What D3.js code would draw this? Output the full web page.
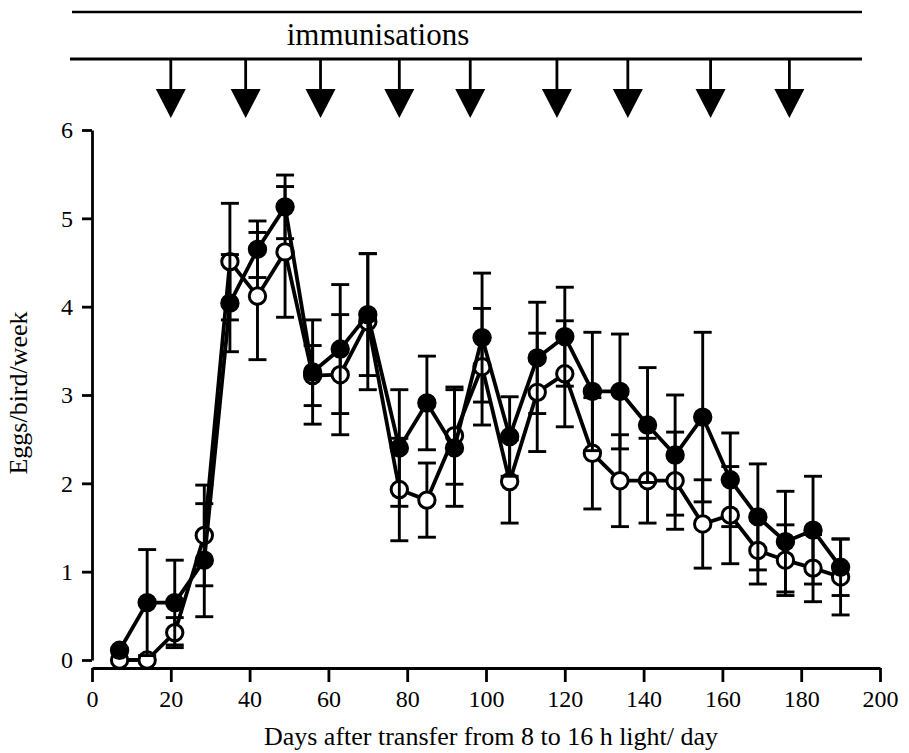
<!DOCTYPE html>
<html>
<head>
<meta charset="utf-8">
<script src="https://cdn.jsdelivr.net/npm/d3@7"></script>
<style>
  html, body { margin: 0; padding: 0; background: #fff; }
  svg { display: block; }
  text { font-family: "Liberation Serif", "Times New Roman", serif; fill: #000; }
</style>
</head>
<body>
<svg id="chart" width="909" height="753"></svg>
<script>
// Days after the photoperiod transfer at which egg output was scored
const days = [7, 14, 21, 28.5, 35, 42, 49, 56, 63, 70, 78, 85, 92, 99, 106, 113,
              120, 127, 134, 141, 148, 155, 162, 169, 176, 183, 190];

// Group shown with filled circles: mean eggs/bird/week and its SEM
const filledMean = [0.11, 0.65, 0.65, 1.13, 4.04, 4.65, 5.13, 3.26, 3.52, 3.91, 2.40, 2.91, 2.40, 3.65,
                    2.53, 3.42, 3.66, 3.04, 3.04, 2.66, 2.32, 2.75, 2.04, 1.62, 1.34, 1.47, 1.05];
const filledSem  = [0.08, 0.60, 0.48, 0.64, 0.55, 0.32, 0.36, 0.59, 0.73, 0.69, 0.66, 0.53, 0.66, 0.73,
                    0.45, 0.63, 0.56, 0.67, 0.65, 0.65, 0.68, 0.96, 0.53, 0.60, 0.57, 0.61, 0.32];

// Group shown with open circles
const openMean = [0.00, 0.00, 0.31, 1.41, 4.51, 4.12, 4.62, 3.22, 3.23, 3.83, 1.93, 1.81, 2.54, 3.32,
                  2.02, 3.03, 3.24, 2.34, 2.03, 2.03, 2.03, 1.54, 1.64, 1.24, 1.13, 1.04, 0.94];
const openSem  = [0.00, 0.00, 0.17, 0.57, 0.66, 0.72, 0.74, 0.34, 0.68, 0.77, 0.58, 0.42, 0.55, 0.66,
                  0.47, 0.67, 0.60, 0.63, 0.52, 0.48, 0.55, 0.50, 0.55, 0.38, 0.40, 0.38, 0.43];

// Days on which the immunisations were given
const immunisationDays = [20, 39, 58, 78, 96, 118, 136, 157, 177];

const xTicks = [0, 20, 40, 60, 80, 100, 120, 140, 160, 180, 200];
const yTicks = [0, 1, 2, 3, 4, 5, 6];

const svg = d3.select("#chart");

const x = d3.scaleLinear().domain([0, 200]).range([92, 880]);
const y = d3.scaleLinear().domain([0, 6]).range([660, 130]);

// ---- immunisation banner ----
const banner = svg.append("g");
banner.append("line").attr("x1", 72).attr("x2", 862).attr("y1", 12).attr("y2", 12)
  .attr("stroke", "#000").attr("stroke-width", 2.4);
banner.append("line").attr("x1", 70).attr("x2", 862).attr("y1", 59).attr("y2", 59)
  .attr("stroke", "#000").attr("stroke-width", 2.8);
banner.append("text").attr("x", 378).attr("y", 45).attr("text-anchor", "middle")
  .attr("font-size", 31).text("immunisations");

const arrows = banner.selectAll("g.arrow").data(immunisationDays).join("g")
  .attr("class", "arrow").attr("transform", d => `translate(${x(d)},0)`);
arrows.append("line").attr("x1", 0).attr("x2", 0).attr("y1", 59).attr("y2", 92)
  .attr("stroke", "#000").attr("stroke-width", 2.8);
arrows.append("path").attr("d", "M-15,89 L15,89 L0,118 Z").attr("fill", "#000");

// ---- axes ----
const yAxis = svg.append("g").attr("transform", "translate(92,0)")
  .call(d3.axisLeft(y).tickValues(yTicks).tickFormat(d3.format("d"))
    .tickSize(10).tickSizeOuter(0).tickPadding(9));
const xAxis = svg.append("g").attr("transform", "translate(0,668)")
  .call(d3.axisBottom(x).tickValues(xTicks).tickFormat(d3.format("d"))
    .tickSize(14).tickSizeOuter(0).tickPadding(8));

[yAxis, xAxis].forEach(g => {
  g.select(".domain").attr("stroke", "#000").attr("stroke-width", 2.8);
  g.selectAll(".tick line").attr("stroke", "#000").attr("stroke-width", 2.8);
  g.selectAll(".tick text").attr("font-family", "Liberation Serif, serif")
    .attr("font-size", 24).attr("fill", "#000");
});

svg.append("text").attr("transform", "translate(27,393) rotate(-90)")
  .attr("text-anchor", "middle").attr("font-size", 26).text("Eggs/bird/week");
svg.append("text").attr("x", 491).attr("y", 745).attr("text-anchor", "middle")
  .attr("font-size", 26).text("Days after transfer from 8 to 16 h light/ day");

// ---- series ----
const series = [
  { mean: openMean, sem: openSem, fill: "#fff" },
  { mean: filledMean, sem: filledSem, fill: "#000" }
];

const line = d3.line().x(d => x(d.day)).y(d => y(d.v));
const capHalf = 9;

series.forEach(s => {
  const pts = days.map((day, i) => ({ day, v: s.mean[i], e: s.sem[i] }));
  const g = svg.append("g");

  const bars = g.selectAll("g.err").data(pts.filter(p => p.e > 0.1)).join("g").attr("class", "err");
  bars.append("line")
    .attr("x1", d => x(d.day)).attr("x2", d => x(d.day))
    .attr("y1", d => y(d.v + d.e)).attr("y2", d => y(d.v - d.e))
    .attr("stroke", "#000").attr("stroke-width", 2.9);
  [1, -1].forEach(sign => {
    bars.append("line")
      .attr("x1", d => x(d.day) - capHalf).attr("x2", d => x(d.day) + capHalf)
      .attr("y1", d => y(d.v + sign * d.e)).attr("y2", d => y(d.v + sign * d.e))
      .attr("stroke", "#000").attr("stroke-width", 2.9);
  });

  g.append("path").datum(pts).attr("d", line)
    .attr("fill", "none").attr("stroke", "#000").attr("stroke-width", 3.8)
    .attr("stroke-linejoin", "round");

  g.selectAll("circle").data(pts).join("circle")
    .attr("cx", d => x(d.day)).attr("cy", d => y(d.v))
    .attr("r", 8.2).attr("fill", s.fill).attr("stroke", "#000").attr("stroke-width", 3);
});
</script>
</body>
</html>
